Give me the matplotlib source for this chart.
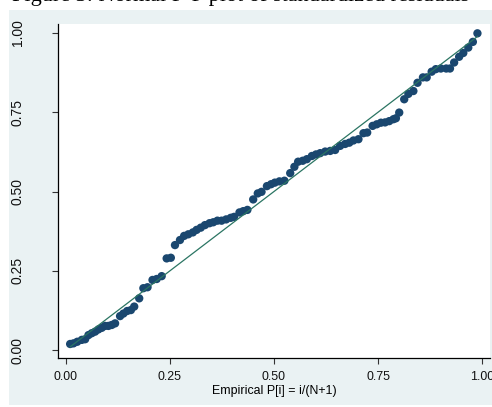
import matplotlib.pyplot as plt
from matplotlib.patches import Rectangle

# empirical P[i] and normal F[(x-m)/s]
emp_p = [0.010, 0.018, 0.027, 0.038, 0.046, 0.054, 0.062, 0.070, 0.078, 0.086,
         0.094, 0.102, 0.110, 0.118, 0.130, 0.138, 0.147, 0.156, 0.164, 0.176,
         0.186, 0.196, 0.208, 0.218, 0.230, 0.242, 0.252, 0.262, 0.274, 0.284,
         0.294, 0.305, 0.314, 0.324, 0.334, 0.345, 0.354, 0.364, 0.374, 0.385,
         0.396, 0.404, 0.417, 0.426, 0.436, 0.450, 0.461, 0.470, 0.483, 0.493,
         0.502, 0.513, 0.525, 0.539, 0.549, 0.558, 0.569, 0.579, 0.591, 0.601,
         0.611, 0.623, 0.635, 0.647, 0.659, 0.671, 0.681, 0.691, 0.703, 0.715,
         0.724, 0.737, 0.747, 0.757, 0.767, 0.777, 0.787, 0.793, 0.801, 0.813,
         0.823, 0.835, 0.845, 0.858, 0.867, 0.879, 0.889, 0.901, 0.914, 0.923,
         0.933, 0.945, 0.955, 0.967, 0.978, 0.989]
norm_f = [0.019, 0.021, 0.026, 0.032, 0.034, 0.047, 0.053, 0.058, 0.065, 0.070,
          0.076, 0.076, 0.079, 0.084, 0.107, 0.115, 0.123, 0.126, 0.137, 0.163,
          0.195, 0.198, 0.221, 0.224, 0.233, 0.289, 0.291, 0.331, 0.347, 0.360,
          0.365, 0.371, 0.379, 0.386, 0.394, 0.400, 0.403, 0.408, 0.408, 0.412,
          0.417, 0.420, 0.434, 0.438, 0.442, 0.475, 0.494, 0.499, 0.517, 0.523,
          0.528, 0.532, 0.534, 0.558, 0.578, 0.594, 0.597, 0.602, 0.612, 0.617,
          0.621, 0.626, 0.628, 0.631, 0.644, 0.650, 0.654, 0.661, 0.665, 0.684,
          0.686, 0.707, 0.712, 0.717, 0.718, 0.722, 0.728, 0.731, 0.749, 0.791,
          0.808, 0.817, 0.843, 0.860, 0.860, 0.878, 0.886, 0.888, 0.888, 0.888,
          0.907, 0.925, 0.937, 0.954, 0.972, 0.999]
ticks = [0.0, 0.25, 0.5, 0.75, 1.0]
tick_labels = ["0.00", "0.25", "0.50", "0.75", "1.00"]

fig = plt.figure(figsize=(4.92, 4.07), dpi=100)
fig.patch.set_facecolor("white")

# stata graph region (light bluish gray), drawn in a background axes
bg = fig.add_axes([0, 0, 1, 1], zorder=-1)
bg.axis("off")
bg.set_xlim(0, 492)
bg.set_ylim(407, 0)
bg.add_patch(Rectangle((9, 10), 500, 395, facecolor="#eaf2f3", edgecolor="none"))

# caption, cut off at the top edge as in the screenshot
bg.text(12, 0.5, "Figure 3: Normal P-P plot of standardized residuals",
        family="Liberation Serif", fontsize=16, va="baseline", ha="left")

ax = fig.add_axes([58/492, 49/407, 432/492, 334/407], zorder=1)
ax.set_facecolor("white")

ax.scatter(emp_p, norm_f, s=36, color="#1a476f", edgecolors="none", zorder=2)
ax.plot([emp_p[0], emp_p[-1]], [emp_p[0], emp_p[-1]], color="#2b7563", lw=0.9, zorder=3)

ax.set_xlim(-0.0192, 1.0192)
ax.set_ylim(-0.0252, 1.0284)

for s in ["top", "right"]:
    ax.spines[s].set_visible(False)
for s in ["left", "bottom"]:
    ax.spines[s].set_linewidth(0.9)
    ax.spines[s].set_color("black")

ax.set_xticks(ticks)
ax.set_xticklabels(tick_labels, family="Liberation Sans", fontsize=8.9)
ax.set_yticks(ticks)
ax.set_yticklabels(tick_labels, family="Liberation Sans", fontsize=10, rotation=90, va="center")
ax.tick_params(axis="x", length=4, width=0.8, pad=5, colors="#333333", labelcolor="#111111")
ax.tick_params(axis="y", length=4, width=0.8, pad=20, colors="#333333", labelcolor="#111111")

ax.set_xlabel("Empirical P[i] = i/(N+1)", family="Liberation Sans", fontsize=8.9, labelpad=1.5)

fig.savefig("out.png", dpi=100)
